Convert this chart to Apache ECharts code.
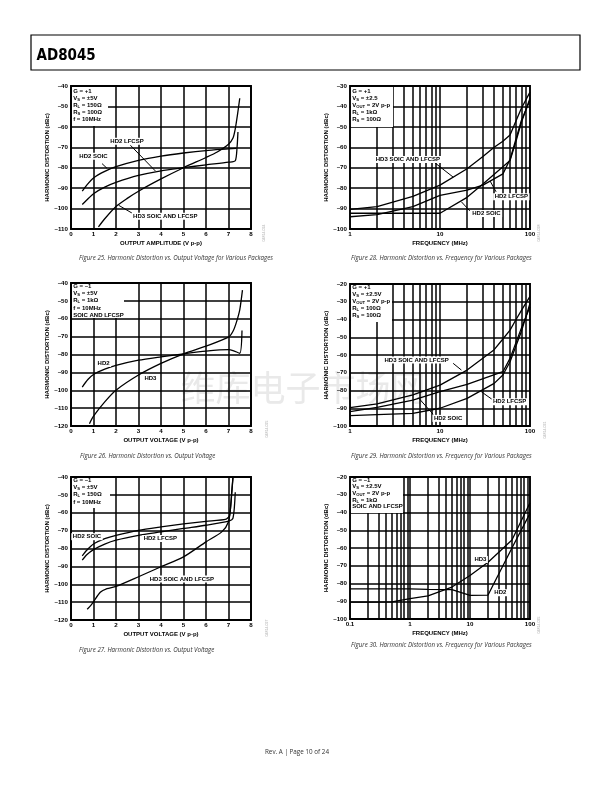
<!DOCTYPE html>
<html><head><meta charset="utf-8">
<script src="https://cdn.jsdelivr.net/npm/echarts@6.0.0/dist/echarts.min.js"></script>
<style>html,body{margin:0;padding:0;background:#fff}#c{width:612px;height:792px}</style>
</head><body><div id="c"></div>
<script>
// ---------- DATA ----------
// Figure 25: HD vs output amplitude, G=+1, RL=150
const f25_hd2Soic  = [[0.5,-91.5],[0.7,-88.5],[1,-85],[1.5,-81.8],[2,-79.5],[3,-76.4],[4,-74.3],[5,-72.8],[6,-71.6],[7,-70.8],[7.35,-70.5]];
const f25_hd2Lfcsp = [[0.5,-98],[0.7,-95.8],[1,-92.7],[1.5,-89.5],[2,-87.2],[3,-83.8],[4,-81.5],[5,-80],[6,-78.6],[7,-77.3],[7.3,-76.6],[7.38,-70],[7.42,-62.5]];
const f25_hd3      = [[1.22,-109],[1.5,-105],[2,-99],[2.5,-95],[3,-91.5],[4,-85.5],[5,-80],[6,-75],[6.5,-72.3],[7,-68.5],[7.2,-65.5],[7.3,-61],[7.4,-54],[7.5,-46]];
// Figure 28: HD vs frequency, G=+1, RL=1k
const f28_hd3      = [[1,-90.4],[2,-89],[5,-84],[10,-78.5],[20,-70.5],[30,-64.5],[40,-60],[50,-57],[60,-54],[70,-47],[80,-41],[100,-33]];
const f28_hd2Soic  = [[1,-92.3],[2,-92.3],[5,-92.3],[10,-92.3],[20,-84.5],[30,-78],[50,-69.5],[60,-66.5],[70,-57],[80,-48],[100,-36]];
const f28_hd2Lfcsp = [[1,-94],[2,-93],[5,-89],[10,-83.5],[20,-81],[30,-78.5],[50,-73],[60,-66],[80,-47],[100,-37]];
// Figure 26: HD vs output voltage, G=-1, RL=1k
const f26_hd2 = [[0.5,-98.2],[0.75,-94],[1,-91.2],[1.5,-88.2],[2,-86.1],[3,-83.2],[4,-81.3],[5,-79.6],[6,-78.1],[7,-77.3],[7.2,-77.8],[7.5,-79.3],[7.6,-66.6]];
const f26_hd3 = [[0.82,-118.7],[1,-114.5],[1.5,-106.5],[2,-100],[3,-91.5],[4,-85],[5,-79.6],[6,-75.3],[7,-70.3],[7.2,-67],[7.35,-62],[7.5,-55],[7.62,-44]];
// Figure 29: HD vs frequency, G=+1, RL=100
const f29_hd3      = [[1,-89.7],[2,-87.5],[5,-82.5],[10,-77],[20,-68.5],[40,-57],[50,-51],[60,-46],[70,-40],[80,-35],[100,-27]];
const f29_hd2Soic  = [[1,-91.9],[2,-89.5],[5,-85.4],[10,-80.7],[20,-76.5],[50,-69.4],[60,-61.9],[80,-45],[100,-32.8]];
const f29_hd2Lfcsp = [[1,-94.2],[2,-93.6],[5,-92.9],[10,-90],[20,-84.4],[40,-76],[50,-71.3],[60,-63.8],[80,-46.9],[100,-30.9]];
// Figure 27: HD vs output voltage, G=-1, RL=150
const f27_hd2Soic  = [[0.5,-84.1],[0.7,-81],[1,-77.5],[1.5,-74.5],[2,-72.6],[3,-69.8],[4,-67.9],[5,-66.2],[6,-64.8],[6.9,-63.5],[7.05,-61.5],[7.15,-47],[7.2,-40]];
const f27_hd2Lfcsp = [[0.5,-86.5],[0.7,-83.5],[1,-80.6],[1.5,-77.5],[2,-75.3],[3,-72.6],[4,-70.7],[5,-68.8],[6,-67],[7,-64.7],[7.2,-63],[7.3,-48.5]];
const f27_hd3      = [[0.72,-114],[0.9,-111.5],[1,-109.8],[1.3,-104.5],[1.6,-102.5],[2,-101.2],[3,-95.8],[4,-90.2],[5,-84.7],[6,-76.3],[6.7,-70.7],[7,-65],[7.1,-56],[7.2,-40]];
// Figure 30: HD vs frequency, G=-1, RL=1k
const f30_hd3 = [[0.1,-90.5],[0.2,-90.5],[0.5,-90.3],[1,-88.5],[2,-87],[5,-82],[10,-75.5],[20,-68],[50,-55.5],[100,-34.5]];
const f30_hd2 = [[0.1,-83],[0.5,-83],[1,-83],[2,-83.3],[5,-83.5],[10,-86.7],[20,-86.5],[50,-60],[100,-40.5]];

// condition text blocks
const f25_legend = ['G = +1','V_S = ±5V','R_L = 150Ω','R_S = 100Ω','f = 10MHz'];
const f28_legend = ['G = +1','V_S = ±2.5','V_OUT = 2V p-p','R_L = 1kΩ','R_S = 100Ω'];
const f26_legend = ['G = –1','V_S = ±5V','R_L = 1kΩ','f = 10MHz','SOIC AND LFCSP'];
const f29_legend = ['G = +1','V_S = ±2.5V','V_OUT = 2V p-p','R_L = 100Ω','R_S = 100Ω'];
const f27_legend = ['G = –1','V_S = ±5V','R_L = 150Ω','f = 10MHz'];
const f30_legend = ['G = –1','V_S = ±2.5V','V_OUT = 2V p-p','R_L = 1kΩ','SOIC AND LFCSP'];

// curve labels (anchored in data coordinates)
const f25_labels = [
  {text:'HD2 LFCSP', at:[2.49,-67.1], lead:[[2.64,-69],[3.75,-81.6]]},
  {text:'HD2 SOIC', at:[1.0,-74.4], lead:[[1.38,-78],[1.6,-80.3]]},
  {text:'HD3 SOIC AND LFCSP', at:[4.19,-103.8], lead:[[2.71,-102.2],[2.12,-98.4]]}];
const f28_labels = [
  {text:'HD3 SOIC AND LFCSP', at:[4.4,-66], lead:[[8.6,-67.3],[14,-74.6]]},
  {text:'HD2 LFCSP', at:[62,-84.2], lead:[[42,-81.8],[36,-76.5]]},
  {text:'HD2 SOIC', at:[32.8,-92.4], lead:[[21.4,-91.1],[17.3,-86.7]]}];
const f26_labels = [{text:'HD2', at:[1.45,-85]}, {text:'HD3', at:[3.53,-93.4]}];
const f29_labels = [
  {text:'HD3 SOIC AND LFCSP', at:[5.5,-62.8], lead:[[14,-64.7],[17.3,-68.5]]},
  {text:'HD2 LFCSP', at:[59.5,-86.3], lead:[[38.9,-85.4],[28.8,-80.7]]},
  {text:'HD2 SOIC', at:[12.3,-95.7], lead:[[8.4,-93.4],[5.73,-84]]}];
const f27_labels = [{text:'HD2 SOIC', at:[0.71,-73.4]}, {text:'HD2 LFCSP', at:[3.97,-74.4]}, {text:'HD3 SOIC AND LFCSP', at:[4.93,-97.1]}];
const f30_labels = [{text:'HD3', at:[14.9,-66.5]}, {text:'HD2', at:[32,-85.2]}];

// ---------- LAYOUT / STYLE ----------
const FONT = '"Liberation Sans", Arial, Helvetica, sans-serif';
const defs = [
 {layout:[71,86,180,143], xType:'value', xMin:0, xMax:8, yMin:-110, yMax:-40, xName:'OUTPUT AMPLITUDE (V p-p)',
  series:[f25_hd2Soic,f25_hd2Lfcsp,f25_hd3], smooth:true, legend:f25_legend, box:[36,39], lo:[5,12.2,19.4,26.6,33.8], labels:f25_labels,
  caption:'Figure 25. Harmonic Distortion vs. Output Voltage for Various Packages', cap:[79,258.3], id:'04814-024', idPos:[264,233]},
 {layout:[350,86,180,143], xType:'log', xMin:1, xMax:100, yMin:-100, yMax:-30, xName:'FREQUENCY (MHz)',
  series:[f28_hd3,f28_hd2Soic,f28_hd2Lfcsp], smooth:false, legend:f28_legend, box:[42,40], lo:[5,12.2,19.4,26.6,33.8], labels:f28_labels,
  caption:'Figure 28. Harmonic Distortion vs. Frequency for Various Packages', cap:[351,258.3], id:'04814-028', idPos:[539,233]},
 {layout:[71,283,180,143], xType:'value', xMin:0, xMax:8, yMin:-120, yMax:-40, xName:'OUTPUT VOLTAGE (V p-p)',
  series:[f26_hd2,f26_hd3], smooth:true, legend:f26_legend, box:[52,34], lo:[3,10.2,17.6,25,32], labels:f26_labels,
  caption:'Figure 26. Harmonic Distortion vs. Output Voltage', cap:[80,456.5], id:'04814-025', idPos:[267,429]},
 {layout:[350,284,180,142], xType:'log', xMin:1, xMax:100, yMin:-100, yMax:-20, xName:'FREQUENCY (MHz)',
  series:[f29_hd3,f29_hd2Soic,f29_hd2Lfcsp], smooth:false, legend:f29_legend, box:[41,37], lo:[3.5,10,17.3,24.7,31.7], labels:f29_labels,
  caption:'Figure 29. Harmonic Distortion vs. Frequency for Various Packages', cap:[351,456.3], id:'04814-031', idPos:[545,430]},
 {layout:[71,477,180,143], xType:'value', xMin:0, xMax:8, yMin:-120, yMax:-40, xName:'OUTPUT VOLTAGE (V p-p)',
  series:[f27_hd2Soic,f27_hd2Lfcsp,f27_hd3], smooth:true, legend:f27_legend, box:[38,30], lo:[3,10,17.7,25], labels:f27_labels,
  caption:'Figure 27. Harmonic Distortion vs. Output Voltage', cap:[79,650.3], id:'04814-027', idPos:[267,628]},
 {layout:[350,477,180,142], xType:'log', xMin:0.1, xMax:100, yMin:-100, yMax:-20, xName:'FREQUENCY (MHz)',
  series:[f30_hd3,f30_hd2], smooth:false, legend:f30_legend, box:[52,35], lo:[3,9.5,16.7,23.3,29.8], labels:f30_labels,
  caption:'Figure 30. Harmonic Distortion vs. Frequency for Various Packages', cap:[351,645.5], id:'04814-035', idPos:[539,625]}
];

const yFmt = v => v < 0 ? '\u2013' + Math.abs(v) : String(v);
const logLines = (mn, mx) => { const out=[]; for (let d=mn; d<mx*0.999; d*=10) for (let k=1;k<10;k++){ const v=+(d*k).toPrecision(6); if (v>mn*1.0001 && v<mx*0.9999) out.push(v);} return out; };

const option = {animation:false, grid:[], xAxis:[], yAxis:[], series:[]};
const txt = {color:'#000', fontSize:6.2, fontWeight:'bold', fontFamily:FONT};
defs.forEach((d,i) => {
  const [l,t,w,h] = d.layout;
  option.grid.push({left:l, top:t, width:w, height:h, show:true, borderColor:'#000', borderWidth:1.9, backgroundColor:'transparent'});
  const xa = {gridIndex:i, type:d.xType, min:d.xMin, max:d.xMax,
    axisLine:{show:false}, axisTick:{show:false},
    axisLabel:Object.assign({margin:2.5}, txt),
    splitLine:{show:d.xType==='value', lineStyle:{color:'#000', width:1.5}},
    name:d.xName, nameLocation:'middle', nameGap:11.5,
    nameTextStyle:{color:'#000', fontSize:6, fontWeight:'bold', fontFamily:FONT}};
  if (d.xType==='value') xa.interval = 1; else { xa.logBase = 10; xa.axisLabel.formatter = v => String(+v.toPrecision(6)); }
  option.xAxis.push(xa);
  option.yAxis.push({gridIndex:i, type:'value', min:d.yMin, max:d.yMax, interval:10,
    axisLine:{show:false}, axisTick:{show:false},
    axisLabel:Object.assign({margin:3, formatter:yFmt}, txt),
    splitLine:{show:true, lineStyle:{color:'#000', width:1.5}},
    name:'HARMONIC DISTORTION (dBc)', nameLocation:'middle', nameRotate:90, nameGap:21,
    nameTextStyle:{color:'#000', fontSize:6, fontWeight:'bold', fontFamily:FONT}});
  d.series.forEach((data,k) => {
    const s = {type:'line', xAxisIndex:i, yAxisIndex:i, data:data, symbol:'none', showSymbol:false,
      smooth: d.smooth ? 0.25 : false, lineStyle:{color:'#000', width:1.3}, silent:true, z:3};
    if (k===0 && d.xType==='log') {
      s.markLine = {symbol:['none','none'], silent:true, label:{show:false}, animation:false,
        lineStyle:{color:'#000', width:1.5, type:'solid'}, emphasis:{disabled:true},
        data: logLines(d.xMin, d.xMax).map(v => ({xAxis:v}))};
    }
    option.series.push(s);
  });
});

const chart = echarts.init(document.getElementById('c'), null, {renderer:'canvas'});
chart.setOption(option);

// ---------- ANNOTATIONS ----------
const els = [];
const px = (gi, p) => chart.convertToPixel({gridIndex:gi}, p);
const richLine = line => { const m = line.match(/^(\w)_([A-Z]+)(.*)$/); return m ? `{m|${m[1]}}{s|${m[2]}}{m|${m[3]}}` : `{m|${line}}`; };
defs.forEach((d,i) => {
  const [l,t] = d.layout;
  els.push({type:'rect', z:15, shape:{x:l+1, y:t+1, width:d.box[0], height:d.box[1]}, style:{fill:'#fff'}});
  d.legend.forEach((line,k) => {
    els.push({type:'text', z:16, x:l+2.2, y:t+d.lo[k], style:{text:richLine(line), fill:'#000', verticalAlign:'middle', align:'left',
      rich:{m:{fontSize:6, fontWeight:'bold', fontFamily:FONT, fill:'#000', lineHeight:7},
            s:{fontSize:4.2, fontWeight:'bold', fontFamily:FONT, fill:'#000', lineHeight:4.5, verticalAlign:'bottom'}}}});
  });
  d.labels.forEach(lb => {
    if (lb.lead) {
      const a = px(i, lb.lead[0]), b = px(i, lb.lead[1]);
      els.push({type:'line', z:17, shape:{x1:a[0],y1:a[1],x2:b[0],y2:b[1]}, style:{stroke:'#000', lineWidth:1}});
    }
    const p = px(i, lb.at);
    els.push({type:'text', z:18, x:p[0], y:p[1], style:{text:lb.text, fill:'#000', font:'bold 6px '+FONT, align:'center', verticalAlign:'middle', backgroundColor:'#fff', padding:[0.5,1.5]}});
  });
  els.push({type:'text', z:18, x:d.cap[0], y:d.cap[1], style:{text:d.caption, fill:'#333', font:'italic 6.2px "Open Sans", "Noto Sans", sans-serif', align:'left', verticalAlign:'middle'}});
  els.push({type:'text', z:18, x:d.idPos[0], y:d.idPos[1], rotation:Math.PI/2, style:{text:d.id, fill:'#aaa', font:'3.6px '+FONT, align:'center', verticalAlign:'middle'}});
});
// page furniture
els.push({type:'rect', z:18, shape:{x:31, y:35, width:549, height:35}, style:{fill:'none', stroke:'#000', lineWidth:1.2}});
els.push({type:'text', z:18, x:36.5, y:56.3, style:{text:'AD8045', fill:'#000', font:'bold 15px "Liberation Sans Narrow", "DejaVu Sans Condensed", sans-serif', align:'left', verticalAlign:'middle'}});
els.push({type:'text', z:18, x:297, y:752.3, style:{text:'Rev. A | Page 10 of 24', fill:'#333', font:'6.3px "Open Sans", "Noto Sans", sans-serif', align:'center', verticalAlign:'middle'}});
els.push({type:'text', z:-5, x:303, y:388, style:{text:'维库电子市场网', fill:'#e9e9e9', font:'35px "Noto Sans CJK SC", sans-serif', align:'center', verticalAlign:'middle'}});
chart.setOption({graphic:{elements:els}});
</script></body></html>
